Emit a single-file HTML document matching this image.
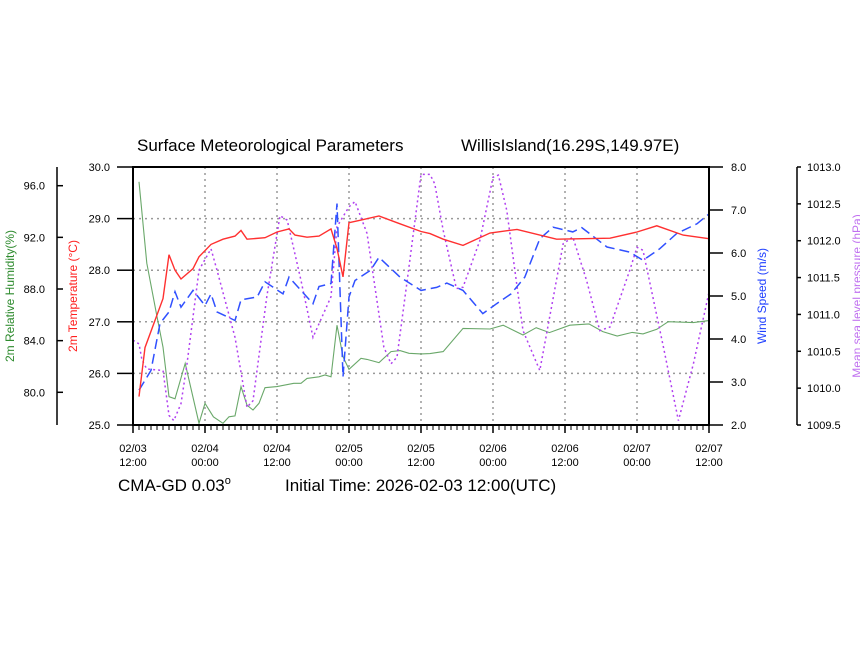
<!DOCTYPE html>
<html><head><meta charset="utf-8">
<style>
html,body{margin:0;padding:0;background:#fff;}
svg{display:block;font-family:"Liberation Sans",Arial,sans-serif;}
</style></head>
<body>
<svg id="chart" width="860" height="645" viewBox="0 0 860 645"></svg>
<script>
// hours since 2026-02-03 12:00 UTC
const tempHours=[1,2,5,6,7,8,10,11,13,15,17,18,19,22,24,26,27,29,31,33,34,35,36,38,41,44.5,48,49.5,51.7,55,59.5,64,70.6,79.5,84,87.3,91.7,96];
const tempValues=[25.55,26.5,27.45,28.3,28.0,27.83,28.03,28.26,28.5,28.6,28.66,28.77,28.6,28.63,28.74,28.8,28.68,28.64,28.66,28.8,28.42,27.87,28.92,28.97,29.05,28.9,28.75,28.71,28.6,28.48,28.72,28.79,28.6,28.62,28.74,28.86,28.68,28.61];
const windHours=[1,3,4.5,6,7,8,10,12,13,14,17,18,20.7,22,25,26,28,30,31,33,34,35,36,37,39.6,41,44.5,48,50.6,52.3,55,58.3,60.6,63,65.3,67.8,70,73.3,74.8,79,82.8,85,87.8,90.6,94,96];
const windValues=[2.81,3.27,4.36,4.63,5.1,4.74,5.13,4.78,5.05,4.63,4.43,4.91,4.98,5.33,5.05,5.44,5.13,4.82,5.22,5.29,7.15,3.12,4.98,5.36,5.6,5.9,5.44,5.13,5.2,5.3,5.13,4.59,4.82,5.05,5.44,6.33,6.6,6.49,6.59,6.14,6.02,5.83,6.1,6.45,6.68,6.91];
const presHours=[0,1,1.5,2.3,5,6,6.8,8,9,11,13,14,17,19,20,22.3,24.5,25.7,28,30,33,34,36,37,39,41.8,43,44,45.7,48,49.5,50.3,51.7,53.9,55,57.8,60,60.9,62.3,65,67.8,71.7,73.3,75.6,77.8,79.5,82.8,84,85,88.4,90.9,93.4,96];
const presValues=[1010.65,1010.6,1010.38,1010.26,1010.24,1009.63,1009.56,1009.79,1010.33,1011.6,1011.89,1011.6,1010.69,1009.74,1009.83,1011.24,1012.34,1012.28,1011.46,1010.69,1011.24,1012.19,1012.46,1012.53,1012.1,1010.56,1010.33,1010.42,1011.46,1012.9,1012.9,1012.77,1012.14,1011.35,1011.37,1012.0,1012.86,1012.89,1012.41,1010.78,1010.24,1011.96,1012.05,1011.46,1010.78,1010.83,1011.6,1011.91,1011.87,1010.56,1009.56,1010.33,1011.3];
const rhHours=[1,2.3,4,5,6,7,8.7,11,12,13.4,15,16,17,18,19,20,21,22,24,26.8,28,29,31,32,33,34,35,36,38,39,41,43,44.5,46,48,49.5,51.7,55,59.5,61.7,65,67.2,69.4,72.8,76,78.3,80.7,83.2,85,87.3,89.2,93.4,96];
const rhValues=[96.3,90.0,85.86,83.5,79.66,79.5,82.24,77.6,79.15,78.1,77.6,78.1,78.17,80.44,79.0,78.63,79.15,80.36,80.44,80.7,80.7,81.08,81.2,81.34,81.2,85.2,82.76,81.78,82.63,82.55,82.3,83.15,83.23,83.02,82.97,83.0,83.15,84.95,84.9,85.2,84.44,85.0,84.62,85.2,85.3,84.7,84.36,84.64,84.52,84.88,85.47,85.4,85.55];
const xTickLabels=[["02/03","12:00"],["02/04","00:00"],["02/04","12:00"],["02/05","00:00"],["02/05","12:00"],["02/06","00:00"],["02/06","12:00"],["02/07","00:00"],["02/07","12:00"]];
const tempTicks=[25,26,27,28,29,30];
const rhTicks=[80,84,88,92,96];
const windTicks=[2,3,4,5,6,7,8];
const presTicks=[1009.5,1010,1010.5,1011,1011.5,1012,1012.5,1013];

const L=133,R=709,T=167,B=425;
const NS="http://www.w3.org/2000/svg";
const svg=document.getElementById('chart');
function x(h){return L+(R-L)*h/96;}
function yT(v){return B-(B-T)*(v-25)/5;}
function yW(v){return B-(B-T)*(v-2)/6;}
function yP(v){return B-(B-T)*(v-1009.5)/3.5;}
function yH(v){return 392.3-(v-80)*(392.3-185.7)/16;}
function el(tag,attrs,parent){const e=document.createElementNS(NS,tag);for(const k in attrs)e.setAttribute(k,attrs[k]);(parent||svg).appendChild(e);return e;}
function txt(s,attrs){const e=el('text',attrs);e.textContent=s;return e;}

// grid
const grid=el('g',{});


for(let i=1;i<8;i++){el('line',{x1:x(i*12),x2:x(i*12),y1:T,y2:B,stroke:'#999','stroke-width':1.5,'stroke-dasharray':'2,4'},grid);}
for(let v=26;v<=29;v++){el('line',{x1:L,x2:R,y1:yT(v),y2:yT(v),stroke:'#999','stroke-width':1.5,'stroke-dasharray':'2,4'},grid);}

// series
function series(hours,vals,yf,attrs,name){
  const d=hours.map((h,i)=>(i?'L':'M')+x(h).toFixed(1)+','+yf(vals[i]).toFixed(1)).join(' ');
  const p=el('path',Object.assign({d:d,fill:'none'},attrs));
  
  
}
series(rhHours,rhValues,yH,{stroke:'#6aa86a','stroke-width':1.1},'humidity-line');
series(presHours,presValues,yP,{stroke:'#b040f0','stroke-width':1.5,'stroke-dasharray':'2,3'},'pressure-line');
series(windHours,windValues,yW,{stroke:'#3050ff','stroke-width':1.5,'stroke-dasharray':'10,5'},'wind-line');
series(tempHours,tempValues,yT,{stroke:'#ff3030','stroke-width':1.4},'temperature-line');

// frame
const fr=el('rect',{x:L,y:T,width:R-L,height:B-T,fill:'none',stroke:'#000','stroke-width':2});



// x ticks
for(let h=0;h<=96;h++){const maj=h%12==0;el('line',{x1:x(h),x2:x(h),y1:B,y2:B+(maj?8:5),stroke:'#000','stroke-width':maj?1.5:1});}
xTickLabels.forEach((lb,i)=>{
  const t=txt(lb[0],{x:x(i*12),y:452,'font-size':11,'text-anchor':'middle',fill:'#000'});
  
  
  const t2=txt(lb[1],{x:x(i*12),y:466,'font-size':11,'text-anchor':'middle',fill:'#000'});
  
  
});
// temp axis
tempTicks.forEach(v=>{el('line',{x1:117,x2:L,y1:yT(v),y2:yT(v),stroke:'#000','stroke-width':1.5});
  const t=txt(v.toFixed(1),{x:110,y:yT(v)+4,'font-size':11,'text-anchor':'end'});
  
  });
// rh axis
el('line',{x1:57,x2:57,y1:T,y2:B,stroke:'#000','stroke-width':1.5});
rhTicks.forEach(v=>{el('line',{x1:57,x2:63,y1:yH(v),y2:yH(v),stroke:'#000','stroke-width':1.5});
  const t=txt(v.toFixed(1),{x:45,y:yH(v)+4,'font-size':11,'text-anchor':'end'});
  
  });
// wind axis
windTicks.forEach(v=>{el('line',{x1:R,x2:723,y1:yW(v),y2:yW(v),stroke:'#000','stroke-width':1.5});
  const t=txt(v.toFixed(1),{x:731,y:yW(v)+4,'font-size':11});
  
  });
// pressure axis
el('line',{x1:797,x2:797,y1:T,y2:B,stroke:'#000','stroke-width':1.5});
presTicks.forEach(v=>{el('line',{x1:797,x2:801,y1:yP(v),y2:yP(v),stroke:'#000','stroke-width':1.5});
  const t=txt(v.toFixed(1),{x:807,y:yP(v)+4,'font-size':11});
  
  });

// axis titles
function vtitle(s,cx,cy,col,name){const t=txt(s,{x:cx,y:cy,'font-size':12,fill:col,'text-anchor':'middle',transform:'rotate(-90 '+cx+' '+cy+')'});
  }
vtitle('2m Relative Humidity(%)',14,296,'#2e8b2e','humidity-axis-title');
vtitle('2m Temperature (\u00B0C)',77,296,'#ff2020','temperature-axis-title');
vtitle('Wind Speed (m/s)',766,296,'#2040ff','wind-axis-title');
vtitle('Mean sea level pressure (hPa)',861,296,'#c070f0','pressure-axis-title');

// titles
let t=txt('Surface Meteorological Parameters',{x:137,y:151,'font-size':17});

t=txt('WillisIsland(16.29S,149.97E)',{x:461,y:151,'font-size':17});

t=el('text',{x:118,y:491,'font-size':17});
t.innerHTML='CMA-GD 0.03<tspan dy="-7" font-size="11">o</tspan>';

t=txt('Initial Time: 2026-02-03 12:00(UTC)',{x:285,y:491,'font-size':17});

</script>
</body></html>
